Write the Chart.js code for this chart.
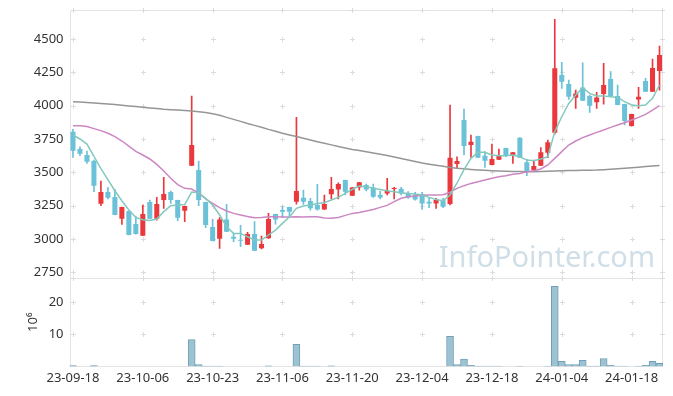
<!DOCTYPE html>
<html><head><meta charset="utf-8">
<script src="https://cdn.jsdelivr.net/npm/chart.js@4"></script>
<style>html,body{margin:0;padding:0;background:#fff}#wrap{width:673px;height:396px}</style>
</head><body><div id="wrap"><canvas id="c" width="673" height="396"></canvas></div>
<script>
const dates = ['23-09-18','23-09-19','23-09-20','23-09-21','23-09-22','23-09-25','23-09-26','23-09-27','23-10-04','23-10-05',
'23-10-06','23-10-10','23-10-11','23-10-12','23-10-13','23-10-16','23-10-17','23-10-18','23-10-19','23-10-20',
'23-10-23','23-10-24','23-10-25','23-10-26','23-10-27','23-10-30','23-10-31','23-11-01','23-11-02','23-11-03',
'23-11-06','23-11-07','23-11-08','23-11-09','23-11-10','23-11-13','23-11-14','23-11-15','23-11-16','23-11-17',
'23-11-20','23-11-21','23-11-22','23-11-23','23-11-24','23-11-27','23-11-28','23-11-29','23-11-30','23-12-01',
'23-12-04','23-12-05','23-12-06','23-12-07','23-12-08','23-12-11','23-12-12','23-12-13','23-12-14','23-12-15',
'23-12-18','23-12-19','23-12-20','23-12-21','23-12-22','23-12-26','23-12-27','23-12-28','24-01-02','24-01-03',
'24-01-04','24-01-05','24-01-08','24-01-09','24-01-10','24-01-11','24-01-12','24-01-15','24-01-16','24-01-17',
'24-01-18','24-01-19','24-01-22','24-01-23','24-01-24'];

const openP = [3805,3675,3630,3585,3265,3352,3315,3152,3210,3112,
3025,3277,3152,3292,3352,3292,3212,3550,3517,3277,
3090,3002,3147,3017,2992,2957,3037,2930,3005,3187,
3217,3240,3280,3310,3285,3255,3222,3335,3372,3442,
3325,3387,3405,3387,3330,3342,3375,3377,3342,3330,
3337,3280,3267,3292,3262,3562,3892,3705,3772,3625,
3555,3595,3682,3622,3760,3575,3517,3550,3647,3797,
4230,4162,4060,4137,4072,4025,4087,4200,4072,4012,
3847,4047,4185,4105,4260];
const highP = [3822,3692,3660,3592,3435,3387,3372,3240,3210,3172,
3255,3292,3312,3462,3360,3292,3247,4072,3585,3277,
3147,3160,3260,3042,3102,3050,3130,3022,3192,3187,
3247,3240,3912,3367,3305,3410,3330,3462,3422,3442,
3387,3425,3412,3412,3360,3455,3387,3387,3355,3350,
3350,3305,3305,3305,4005,3617,3975,3780,3772,3655,
3712,3675,3682,3650,3760,3597,3592,3685,3742,4647,
4325,4192,4117,4322,4080,4100,4317,4255,4155,4012,
3937,4137,4205,4350,4447];
const lowP = [3612,3625,3567,3355,3250,3300,3180,3110,3030,3037,
3025,3152,3142,3230,3267,3137,3130,3550,3250,3085,
2985,2930,3055,2980,2942,2957,2912,2925,3005,3112,
3160,3160,3262,3260,3217,3217,3222,3300,3300,3330,
3325,3367,3360,3312,3300,3330,3300,3330,3305,3292,
3222,3235,3230,3235,3255,3530,3630,3612,3610,3537,
3555,3595,3617,3567,3610,3475,3517,3550,3610,3787,
4130,4047,3980,4037,3950,3980,4012,4072,4005,3855,
3847,3980,4105,4105,4117];
const closeP = [3662,3640,3580,3400,3352,3310,3180,3240,3030,3037,
3187,3152,3262,3337,3292,3160,3247,3705,3292,3105,
2985,3147,3055,3002,2987,3037,2912,2962,3150,3147,
3205,3205,3360,3280,3230,3222,3262,3375,3412,3355,
3387,3425,3372,3317,3312,3360,3380,3342,3312,3297,
3267,3267,3292,3242,3610,3585,3697,3730,3610,3587,
3600,3625,3630,3650,3610,3505,3547,3650,3725,4280,
4180,4067,4092,4037,4000,4062,4155,4072,4005,3885,
3937,4067,4105,4282,4380];
// volume in millions (10^6)
const volume = [0.25,0,0,0.25,0,0,0,0,0,0,
0,0,0,0,0,0,0,8.4,0.6,0.15,
0.15,0.15,0,0,0,0,0,0,0.2,0,
0,0,6.9,0.15,0.15,0.15,0,0.2,0,0,
0,0,0,0,0,0,0,0,0,0,
0,0,0,0,9.4,0.6,2.3,0.35,0.15,0.15,
0.15,0.15,0,0,0.15,0,0,0,0.15,25.0,
1.6,0.6,0.6,1.9,0.12,0.12,2.5,0.35,0.15,0.15,
0,0.15,0.4,1.6,0.95];
const ma5 = [3780,3750,3712,3620,3528,3445,3362,3287,3217,3162,
3145,3138,3150,3205,3250,3255,3258,3352,3347,3305,
3255,3180,3092,3042,3042,3017,2992,2992,3030,3067,
3117,3167,3230,3247,3255,3267,3272,3292,3312,3342,
3372,3397,3392,3380,3372,3362,3355,3347,3342,3337,
3330,3312,3297,3287,3330,3420,3520,3605,3650,3650,
3630,3625,3625,3630,3617,3592,3587,3600,3617,3805,
3917,4017,4080,4135,4092,4072,4072,4067,4062,4030,
4005,4000,4005,4055,4155];
const ma20 = [3850,3850,3843,3828,3813,3793,3768,3735,3697,3657,
3630,3600,3560,3510,3455,3408,3380,3375,3345,3300,
3267,3235,3210,3192,3180,3168,3160,3162,3167,3167,
3165,3165,3167,3165,3167,3167,3157,3155,3162,3177,
3192,3198,3210,3222,3237,3252,3280,3305,3317,3322,
3328,3330,3330,3332,3350,3380,3400,3417,3430,3442,
3455,3467,3475,3485,3492,3505,3512,3525,3555,3605,
3655,3705,3735,3760,3780,3800,3817,3837,3855,3872,
3892,3912,3935,3967,4000];
const ma120 = [4030,4027,4023,4020,4016,4012,4008,4003,3998,3993,
3988,3983,3978,3973,3970,3967,3963,3960,3955,3948,
3940,3928,3912,3897,3882,3866,3852,3838,3822,3808,
3793,3780,3768,3755,3742,3730,3718,3706,3694,3683,
3672,3663,3654,3645,3636,3627,3615,3603,3592,3581,
3570,3561,3553,3545,3537,3530,3526,3522,3518,3515,
3512,3510,3509,3507,3506,3505,3505,3506,3508,3510,
3512,3513,3514,3515,3516,3517,3520,3523,3527,3531,
3535,3539,3543,3547,3551];
const priceTicks = [2750,3000,3250,3500,3750,4000,4250,4500];
const volumeTicks = [10,20];
const labelEvery = 10;

const UP = 'rgb(234,56,60)', DOWN = 'rgb(106,193,216)';
const candleColors = openP.map((o,i)=> closeP[i] >= o ? UP : DOWN);
const bodies = openP.map((o,i)=>[o, closeP[i]]);
const wicks = lowP.map((l,i)=>[l, highP[i]]);

const FONT = '"Noto Sans", "DejaVu Sans", sans-serif';

const decor = {
  id:'decor',
  beforeDatasetsDraw(chart){
    const {ctx, chartArea:a, scales} = chart;
    const x = scales.x, y = scales.y, v = scales.v;
    ctx.save();
    ctx.font = '29px ' + FONT;
    ctx.fillStyle = 'rgb(207,222,231)';
    ctx.textAlign = 'right';
    ctx.textBaseline = 'alphabetic';
    ctx.fillText('InfoPointer.com', 655, 267);
    ctx.strokeStyle = '#e4e4e4';
    ctx.lineWidth = 1;
    const L = Math.round(a.left)+0.5, R = Math.round(a.right)-0.5;
    const T = Math.round(a.top)+0.5, B = Math.round(a.bottom)-0.5;
    const S = Math.round(y.bottom)+0.5;
    ctx.beginPath();
    ctx.moveTo(L,T); ctx.lineTo(R,T); ctx.lineTo(R,B); ctx.lineTo(L,B); ctx.closePath();
    ctx.moveTo(L,S); ctx.lineTo(R,S);
    ctx.stroke();
    const xs = x.ticks.map(t=>Math.round(x.getPixelForValue(t.value))+0.5);
    xs.push(R);
    const ys = [T, S].concat(priceTicks.map(p=>Math.round(y.getPixelForValue(p))+0.5))
                 .concat(volumeTicks.map(p=>Math.round(v.getPixelForValue(p))+0.5));
    ctx.strokeStyle = '#dcdcdc';
    ctx.beginPath();
    for (const px of xs) for (const py of ys) {
      ctx.moveTo(px-2.5, py); ctx.lineTo(px+2.5, py);
      ctx.moveTo(px, py-2.5); ctx.lineTo(px, py+2.5);
    }
    ctx.stroke();
    ctx.restore();
  }
};

new Chart(document.getElementById('c'), {
  data: {
    labels: dates,
    datasets: [
      {type:'line', data: ma5, yAxisID:'y', borderColor:'rgb(130,201,190)', borderWidth:1.5, pointRadius:0, order:0},
      {type:'line', data: ma20, yAxisID:'y', borderColor:'rgb(204,135,195)', borderWidth:1.5, pointRadius:0, order:0},
      {type:'line', data: ma120, yAxisID:'y', borderColor:'rgb(150,150,150)', borderWidth:1.5, pointRadius:0, order:0},
      {type:'bar', data: bodies, yAxisID:'y', backgroundColor: candleColors, borderWidth:0, barPercentage:0.72, categoryPercentage:1, grouped:false, minBarLength:1, order:1},
      {type:'bar', data: wicks, yAxisID:'y', backgroundColor: candleColors, borderWidth:0, barThickness:1, grouped:false, order:2},
      {type:'bar', data: volume, yAxisID:'v', backgroundColor:'rgb(157,195,211)', borderColor:'rgb(112,160,182)', borderWidth:1, barPercentage:1, categoryPercentage:1, grouped:false, order:3}
    ]
  },
  options: {
    responsive:false, animation:false, devicePixelRatio:1,
    layout:{padding:{left:0,right:10,top:10,bottom:0}},
    plugins:{legend:{display:false}, tooltip:{enabled:false}},
    scales:{
      x:{type:'category', offset:true, grid:{display:false, drawTicks:false}, border:{display:false},
         afterBuildTicks(s){ s.ticks = s.ticks.filter(t=>t.value % labelEvery === 0); },
         ticks:{autoSkip:false, maxRotation:0, minRotation:0, padding:4, color:'#333', font:{family:FONT, size:13},
           callback:(val)=>dates[val]},
         afterFit(s){ s.height = 29.5; s.paddingLeft = 0; s.paddingRight = 0; }
      },
      y:{type:'linear', position:'left', stack:'p', stackWeight:268, weight:2, min:2707.5, max:4717.5,
         grid:{display:false, drawTicks:false}, border:{display:false},
         afterBuildTicks(s){ s.ticks = priceTicks.map(p=>({value:p})); },
         ticks:{padding:6, color:'#333', font:{family:FONT, size:13}, callback:(val)=>String(val)},
         afterFit(s){ s.width = 69.5; s.paddingTop = 0; s.paddingBottom = 0; }
      },
      v:{type:'linear', position:'left', stack:'p', stackWeight:88.5, weight:1, min:0, max:27.6,
         grid:{display:false, drawTicks:false}, border:{display:false},
         afterBuildTicks(s){ s.ticks = volumeTicks.map(p=>({value:p})); },
         ticks:{padding:6, color:'#333', font:{family:FONT, size:13}, callback:(val)=>String(val)},
         title:{display:true, text:'10⁶', color:'#333', font:{family:FONT, size:13}, padding:{top:25,bottom:0}},
         afterFit(s){ s.width = 69.5; s.paddingTop = 0; s.paddingBottom = 0; }
      }
    }
  },
  plugins:[decor]
});
</script></body></html>
